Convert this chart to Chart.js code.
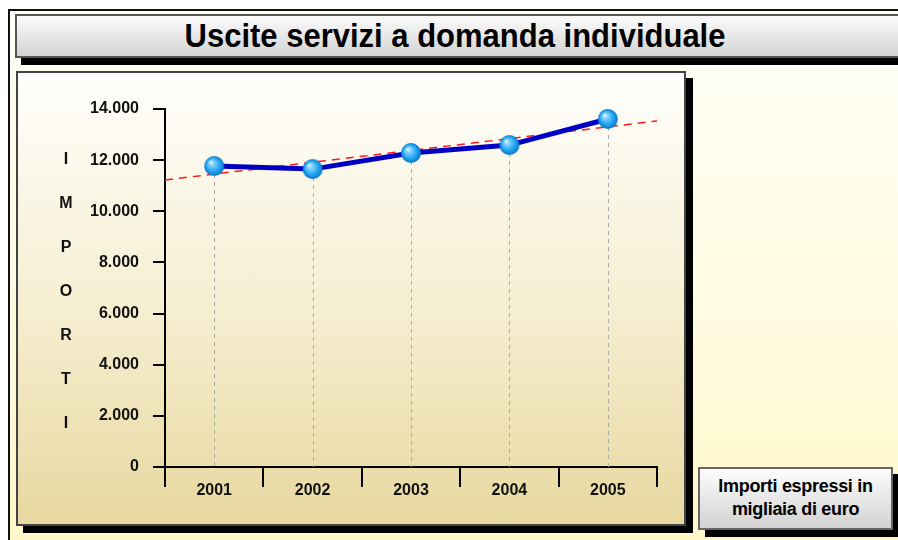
<!DOCTYPE html>
<html>
<head>
<meta charset="utf-8">
<script src="https://cdn.jsdelivr.net/npm/chart.js@4/dist/chart.umd.min.js"></script>
<style>
  html, body { margin: 0; padding: 0; background: #fff; }
  body { width: 898px; height: 540px; position: relative; overflow: hidden; font-family: "Liberation Sans", Arial, sans-serif; }
  .frame { position: absolute; left: 8px; top: 9px; width: 900px; height: 540px; border: 2px solid #111;
           background: linear-gradient(to bottom, #fffff8 0%, #fffbe0 60%, #fff7c6 100%); }
  .title { position: absolute; left: 15px; top: 14px; width: 900px; height: 40px; border: 2px solid #555;
           background: linear-gradient(to bottom, #fcfcfc, #d3d3d3); box-shadow: 6px 7px 0 #000; }
  .title span { position: absolute; left: 0; width: 876px; top: 3px; text-align: center; font-size: 31px; font-weight: bold; color: #000;
                transform: scaleY(1.05); }
  .panel { position: absolute; left: 16px; top: 71px; width: 666px; height: 451px; border: 2px solid #444;
           background: linear-gradient(to bottom, #fffffc 0%, #f6efd3 50%, #e8d8a0 100%); box-shadow: 7px 7px 0 #000; }
  .note { position: absolute; left: 698px; top: 467px; width: 191px; border: 2px solid #666;
          background: linear-gradient(to bottom, #fdfdfd, #d2d2d2); box-shadow: 7px 7px 0 #000;
          text-align: center; font-size: 18px; font-weight: bold; line-height: 23px; padding-top: 6px; height: 53px; letter-spacing: -0.3px; }
  #chart { position: absolute; left: 0; top: 0; }
</style>
</head>
<body>
<div class="frame"></div>
<div class="title"><span>Uscite servizi a domanda individuale</span></div>
<div class="panel"></div>
<div class="note">Importi espressi in<br>migliaia di euro</div>
<canvas id="chart" width="898" height="540"></canvas>

<script>
const years = ['2001', '2002', '2003', '2004', '2005'];
const importi = [11770, 11650, 12280, 12590, 13610];
const yTickLabels = ['0', '2.000', '4.000', '6.000', '8.000', '10.000', '12.000', '14.000'];
const axisLetters = ['I', 'M', 'P', 'O', 'R', 'T', 'I'];

// shaded ball used as the point marker
function makeBall(r) {
    const c = document.createElement('canvas');
    c.width = c.height = r * 2 + 2;
    const g = c.getContext('2d');
    const cx = r + 1, cy = r + 1;
    const grad = g.createRadialGradient(cx - r * 0.35, cy - r * 0.4, 0, cx, cy, r);
    grad.addColorStop(0, '#f0fbff');
    grad.addColorStop(0.25, '#86d4ff');
    grad.addColorStop(0.7, '#1fa2ef');
    grad.addColorStop(1, '#0a74c8');
    g.fillStyle = grad;
    g.beginPath();
    g.arc(cx, cy, r, 0, Math.PI * 2);
    g.fill();
    return c;
}

// dashed drop lines and the red linear trend behind the series
const extras = {
    id: 'extras',
    beforeDatasetsDraw(chart) {
        const ctx = chart.ctx;
        const x = chart.scales.x, y = chart.scales.y;
        ctx.save();
        ctx.strokeStyle = '#a9a9a9';
        ctx.lineWidth = 1;
        ctx.setLineDash([4, 4]);
        importi.forEach((v, i) => {
            const px = Math.round(x.getPixelForValue(i)) + 0.5;
            ctx.beginPath();
            ctx.moveTo(px, y.getPixelForValue(v));
            ctx.lineTo(px, y.getPixelForValue(0));
            ctx.stroke();
        });

        const n = importi.length;
        const mx = (n - 1) / 2;
        const my = importi.reduce((a, b) => a + b, 0) / n;
        let sxy = 0, sxx = 0;
        importi.forEach((v, i) => { sxy += (i - mx) * (v - my); sxx += (i - mx) * (i - mx); });
        const slope = sxy / sxx;
        const at = (i) => my + slope * (i - mx);
        ctx.strokeStyle = '#ff1a1a';
        ctx.lineWidth = 1.5;
        ctx.setLineDash([8, 6]);
        ctx.beginPath();
        ctx.moveTo(x.getPixelForValue(-0.5), y.getPixelForValue(at(-0.5)));
        ctx.lineTo(x.getPixelForValue(n - 0.5), y.getPixelForValue(at(n - 0.5)));
        ctx.stroke();
        ctx.restore();
    },
    afterDraw(chart) {
        const ctx = chart.ctx;
        const area = chart.chartArea;
        const mid = (area.top + area.bottom) / 2 + 4;
        ctx.save();
        ctx.fillStyle = '#111';
        ctx.font = 'bold 16px "Liberation Sans", Arial, sans-serif';
        ctx.textAlign = 'center';
        ctx.textBaseline = 'middle';
        axisLetters.forEach((ch, i) => {
            ctx.fillText(ch, 66, mid + (i - 3) * 44);
        });
        ctx.restore();
    }
};

const tickFont = { family: '"Liberation Sans", Arial, sans-serif', size: 16, weight: 'bold' };

new Chart(document.getElementById('chart'), {
    type: 'line',
    data: {
        labels: years,
        datasets: [{
            data: importi,
            borderColor: '#0000c4',
            borderWidth: 5,
            tension: 0,
            pointStyle: makeBall(10),
            pointRadius: 10,
            clip: false
        }]
    },
    options: {
        responsive: false,
        animation: false,
        devicePixelRatio: 1,
        layout: { padding: { left: 0, top: 109, right: 241, bottom: 43 } },
        plugins: { legend: { display: false }, tooltip: { enabled: false } },
        scales: {
            x: {
                type: 'category',
                offset: true,
                grid: { offset: true, drawOnChartArea: false, drawTicks: true, tickLength: 20, color: '#000', lineWidth: 2 },
                border: { display: true, color: '#000', width: 2 },
                ticks: { font: tickFont, color: '#111', padding: -6 },
                afterFit: (s) => { s.height = 30; }
            },
            y: {
                min: 0,
                max: 14000,
                grid: { drawOnChartArea: false, drawTicks: true, tickLength: 12, color: '#000', lineWidth: 2 },
                border: { display: true, color: '#000', width: 2 },
                ticks: {
                    stepSize: 2000,
                    font: tickFont,
                    color: '#111',
                    padding: 14,
                    callback: (v, i) => yTickLabels[i]
                },
                afterFit: (s) => { s.width = 165; }
            }
        }
    },
    plugins: [extras]
});
</script>
</body>
</html>
